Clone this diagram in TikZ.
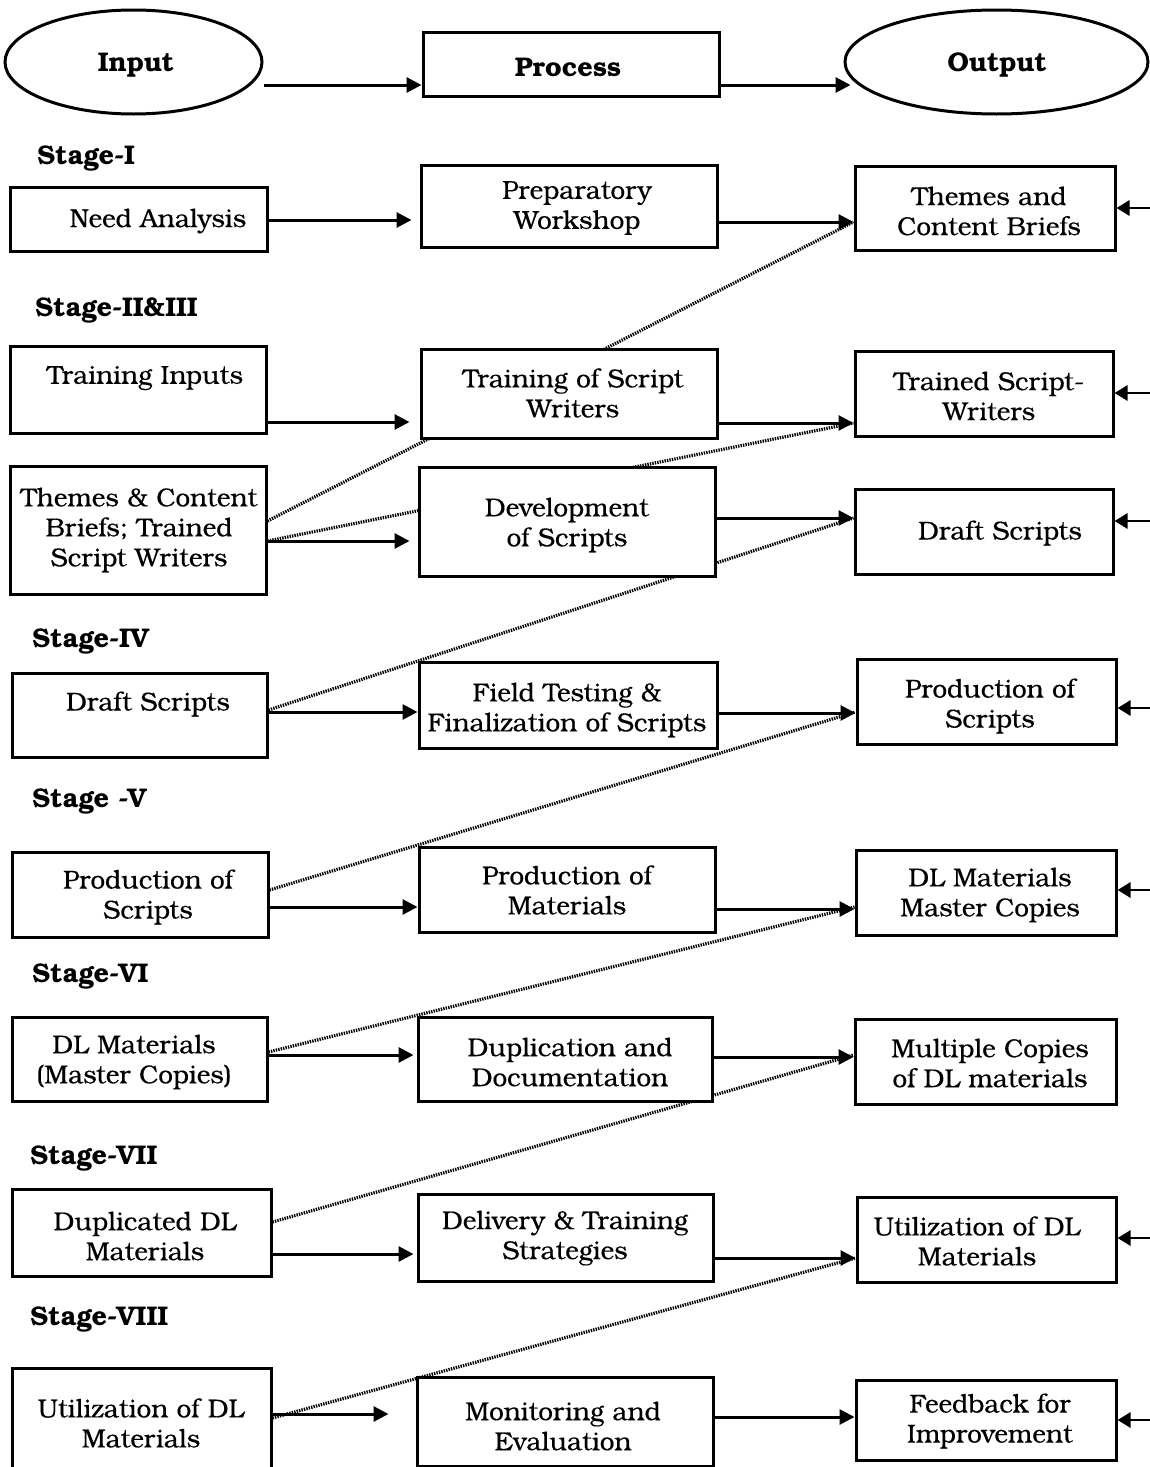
\documentclass[tikz,border=0pt]{standalone}
\usepackage{fontspec}
\setmainfont{TeX Gyre Bonum}
\newfontfamily\bodyfont[FakeBold=0.3]{TeX Gyre Bonum}
\usetikzlibrary{arrows.meta,shapes.geometric,fit,backgrounds}

\tikzset{
  box/.style={draw, rectangle, line width=1.5pt, fill=white, inner sep=0pt},
  oval/.style={draw, ellipse, line width=1.5pt, fill=white, inner sep=0pt},
  txt/.style={align=center, font=\bodyfont\fontsize{13}{15}\selectfont, inner sep=0pt, yshift=-1.5pt},
  hdr/.style={font=\fontsize{13.5}{15}\selectfont\bfseries, inner sep=0pt, yshift=-1.5pt},
  stagelbl/.style={hdr, anchor=west},
  flow/.style={-{Triangle[length=7.5pt,width=7.5pt]}, line width=1.5pt},
  feed/.style={-{Triangle[length=6.5pt,width=7.5pt]}, line width=1.4pt},
  link/.style={line width=1.6pt, dash pattern=on 0.7pt off 0.55pt},
}

\begin{document}
\begin{tikzpicture}[x=0.5pt, y=-0.5pt]
\useasboundingbox (0,0) rectangle (1150,1467);

% ---- header row ----
\node[oval, minimum width=128.5pt, minimum height=52pt] (inp) at (133.5,62) {};
\node[box, fit={(423,32) (719,96)}] (proc) {};
\node[oval, minimum width=151.5pt, minimum height=52pt] (out) at (996.5,62) {};
\node[hdr] (inp-t) at (136,62) {Input};
\node[hdr] (proc-t) at (568,64) {Process};
\node[hdr] (out-t) at (997,62) {Output};

% ---- stage labels ----
\node[stagelbl] (s1) at (37,155) {Stage-I};
\node[stagelbl] (s2) at (35,307) {Stage-II\&III};
\node[stagelbl] (s4) at (32,638) {Stage-IV};
\node[stagelbl] (s5) at (32,798) {Stage -V};
\node[stagelbl] (s6) at (32,973) {Stage-VI};
\node[stagelbl] (s7) at (30,1155) {Stage-VII};
\node[stagelbl] (s8) at (30,1316) {Stage-VIII};

% ---- Stage I ----
\node[box, fit={(10,187) (267,251)}] (need) {};
\node[box, fit={(421,165) (717,247)}] (prep) {};
\node[box, fit={(855,166) (1115,250)}] (themes) {};
\node[txt] (need-t) at (158,218) {Need Analysis};
\node[txt] (prep-t) at (577,205) {Preparatory\\Workshop};
\node[txt] (themes-t) at (989,208) {Themes and\\Content Briefs};

% ---- Stage II & III ----
\node[box, fit={(10,346) (266,433)}] (tin) {};
\node[box, fit={(421,349) (717,438)}] (tsw) {};
\node[box, fit={(855,351) (1113,436)}] (trained) {};
\node[txt] (tin-t) at (145,375) {Training Inputs};
\node[txt] (tsw-t) at (573,390) {Training of Script\\Writers};
\node[txt] (trained-t) at (989,393) {Trained Script-\\Writers};

\node[box, fit={(10,466) (266,594)}] (tcb) {};
\node[box, fit={(419,467) (715,576)}] (dev) {};
\node[box, fit={(855,489) (1113,574)}] (drafto) {};
\node[txt] (tcb-t) at (139,527) {Themes \& Content\\Briefs; Trained\\Script Writers};
\node[txt] (dev-t) at (567,522) {Development\\of Scripts};
\node[txt] (drafto-t) at (1000,530) {Draft Scripts};

% ---- Stage IV ----
\node[box, fit={(12,673) (267,757)}] (drafti) {};
\node[box, fit={(419,662) (717,748)}] (field) {};
\node[box, fit={(857,659) (1116,744)}] (prods) {};
\node[txt] (drafti-t) at (148,701) {Draft Scripts};
\node[txt] (field-t) at (567,707) {Field Testing \&\\Finalization of Scripts};
\node[txt] (prods-t) at (990,703) {Production of\\Scripts};

% ---- Stage V ----
\node[box, fit={(12,852) (268,937)}] (prodsi) {};
\node[box, fit={(419,847) (715,932)}] (prodm) {};
\node[box, fit={(856,850) (1116,935)}] (dlm) {};
\node[txt] (prodsi-t) at (148,894) {Production of\\Scripts};
\node[txt] (prodm-t) at (567,887) {Production of\\Materials};
\node[txt] (dlm-t) at (990,892) {DL Materials\\Master Copies};

% ---- Stage VI ----
\node[box, fit={(12,1017) (267,1101)}] (dlmi) {};
\node[box, fit={(418,1017) (712,1101)}] (dup) {};
\node[box, fit={(855,1019) (1116,1104)}] (mult) {};
\node[txt] (dlmi-t) at (134,1059) {DL Materials\\(Master Copies)};
\node[txt] (dup-t) at (570,1059) {Duplication and\\Documentation};
\node[txt] (mult-t) at (990,1060) {Multiple Copies\\of DL materials};

% ---- Stage VII ----
\node[box, fit={(12,1189) (271,1276)}] (dupi) {};
\node[box, fit={(418,1194) (713,1281)}] (deliv) {};
\node[box, fit={(857,1197) (1116,1282)}] (util) {};
\node[txt] (dupi-t) at (145,1233) {Duplicated DL\\Materials};
\node[txt] (deliv-t) at (565,1235) {Delivery \& Training\\Strategies};
\node[txt] (util-t) at (977,1238) {Utilization of DL\\Materials};

% ---- Stage VIII ----
\node[box, fit={(12,1368) (271,1480)}] (utili) {};
\node[box, fit={(417,1377) (713,1466)}] (mon) {};
\node[box, fit={(856,1380) (1116,1460)}] (fb) {};
\node[txt] (utili-t) at (141,1420) {Utilization of DL\\Materials};
\node[txt] (mon-t) at (563,1423) {Monitoring and\\Evaluation};
\node[txt] (fb-t) at (990,1418) {Feedback for\\Improvement};

% ---- dotted links from inputs to the previous stage's outputs (behind boxes) ----
\begin{scope}[on background layer]
  \draw[link] (tcb.east |- 0,521) -- (themes.west |- 0,222);
  \draw[link] (tcb.east |- 0,541) -- (trained.west |- 0,423);
  \draw[link] (drafti.east |- 0,710) -- (drafto.west |- 0,518);
  \draw[link] (prodsi.east |- 0,890) -- (prods.west |- 0,712);
  \draw[link] (dlmi.east |- 0,1052) -- (dlm.west |- 0,907);
  \draw[link] (dupi.east |- 0,1222) -- (mult.west |- 0,1055);
  \draw[link] (utili.east |- 0,1418) -- (util.west |- 0,1258);
\end{scope}

% ---- main flow arrows ----
\draw[flow] (inp.east |- 0,85) -- (proc.west |- 0,85);
\draw[flow, shorten >=-3.5pt] (proc.east |- 0,85) -- (out.west |- 0,85);

\draw[flow, shorten >=4pt] (need.east |- 0,220) -- (prep.west |- 0,220);
\draw[flow] (prep.east |- 0,222) -- (themes.west |- 0,222);

\draw[flow, shorten >=5pt] (tin.east |- 0,422) -- (tsw.west |- 0,422);
\draw[flow] (tsw.east |- 0,423) -- (trained.west |- 0,423);

\draw[flow, shorten >=4pt] (tcb.east |- 0,541) -- (dev.west |- 0,541);
\draw[flow] (dev.east |- 0,518) -- (drafto.west |- 0,518);

\draw[flow] (drafti.east |- 0,712) -- (field.west |- 0,712);
\draw[flow] (field.east |- 0,713) -- (prods.west |- 0,713);

\draw[flow] (prodsi.east |- 0,907) -- (prodm.west |- 0,907);
\draw[flow] (prodm.east |- 0,909) -- (dlm.west |- 0,909);

\draw[flow, shorten >=1.5pt] (dlmi.east |- 0,1055) -- (dup.west |- 0,1055);
\draw[flow] (dup.east |- 0,1057) -- (mult.west |- 0,1057);

\draw[flow, shorten >=1.5pt] (dupi.east |- 0,1254) -- (deliv.west |- 0,1254);
\draw[flow] (deliv.east |- 0,1258) -- (util.west |- 0,1258);

\draw[flow, shorten >=13.5pt] (utili.east |- 0,1414) -- (mon.west |- 0,1414);
\draw[flow] (mon.east |- 0,1417) -- (fb.west |- 0,1417);

% ---- incoming feedback arrows at the right edge ----
\coordinate (f1) at (1150,208);
\coordinate (f2) at (1150,393);
\coordinate (f3) at (1150,521);
\coordinate (f4) at (1150,708);
\coordinate (f5) at (1150,890);
\coordinate (f6) at (1150,1238);
\coordinate (f7) at (1150,1420);
\draw[feed] (f1) -- (themes.east |- f1);
\draw[feed] (f2) -- (trained.east |- f2);
\draw[feed] (f3) -- (drafto.east |- f3);
\draw[feed] (f4) -- (prods.east |- f4);
\draw[feed] (f5) -- (dlm.east |- f5);
\draw[feed] (f6) -- (util.east |- f6);
\draw[feed] (f7) -- (fb.east |- f7);
\end{tikzpicture}
\end{document}
